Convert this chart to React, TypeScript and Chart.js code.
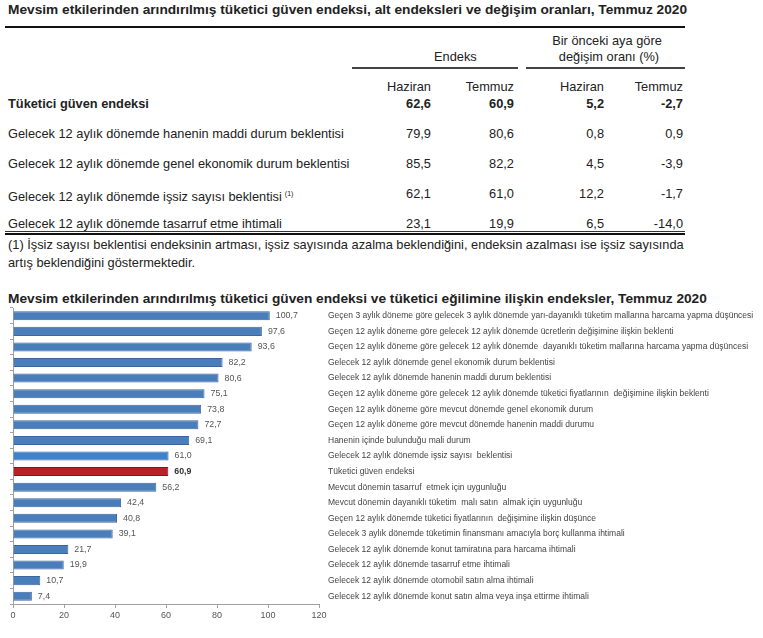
import React, { useEffect, useRef } from "react";
import { Chart, registerables } from "chart.js";

Chart.register(...registerables);

const tableTitle =
  "Mevsim etkilerinden arındırılmış tüketici güven endeksi, alt endeksleri ve değişim oranları, Temmuz 2020";
const chartTitle =
  "Mevsim etkilerinden arındırılmış tüketici güven endeksi ve tüketici eğilimine ilişkin endeksler, Temmuz 2020";

const groupHeaders = ["Endeks", "Bir önceki aya göre", "değişim oranı (%)"];
const monthHeaders = ["Haziran", "Temmuz", "Haziran", "Temmuz"];

const tableRowLabels = [
  "Tüketici güven endeksi",
  "Gelecek 12 aylık dönemde hanenin maddi durum beklentisi",
  "Gelecek 12 aylık dönemde genel ekonomik durum beklentisi",
  "Gelecek 12 aylık dönemde işsiz sayısı beklentisi",
  "Gelecek 12 aylık dönemde tasarruf etme ihtimali",
];
const endeksHaziran = [62.6, 79.9, 85.5, 62.1, 23.1];
const endeksTemmuz = [60.9, 80.6, 82.2, 61.0, 19.9];
const degisimHaziran = [5.2, 0.8, 4.5, 12.2, 6.5];
const degisimTemmuz = [-2.7, 0.9, -3.9, -1.7, -14.0];
const footnoteLines = [
  "(1) İşsiz sayısı beklentisi endeksinin artması, işsiz sayısında azalma beklendiğini, endeksin azalması ise işsiz sayısında",
  "artış beklendiğini göstermektedir.",
];

const categories = [
  "Geçen 3 aylık döneme göre gelecek 3 aylık dönemde yarı-dayanıklı tüketim mallarına harcama yapma düşüncesi",
  "Geçen 12 aylık döneme göre gelecek 12 aylık dönemde ücretlerin değişimine ilişkin beklenti",
  "Geçen 12 aylık döneme göre gelecek 12 aylık dönemde  dayanıklı tüketim mallarına harcama yapma düşüncesi",
  "Gelecek 12 aylık dönemde genel ekonomik durum beklentisi",
  "Gelecek 12 aylık dönemde hanenin maddi durum beklentisi",
  "Geçen 12 aylık döneme göre gelecek 12 aylık dönemde tüketici fiyatlarının  değişimine ilişkin beklenti",
  "Geçen 12 aylık döneme göre mevcut dönemde genel ekonomik durum",
  "Geçen 12 aylık döneme göre mevcut dönemde hanenin maddi durumu",
  "Hanenin içinde bulunduğu mali durum",
  "Gelecek 12 aylık dönemde işsiz sayısı  beklentisi",
  "Tüketici güven endeksi",
  "Mevcut dönemin tasarruf  etmek için uygunluğu",
  "Mevcut dönemin dayanıklı tüketim  malı satın  almak için uygunluğu",
  "Geçen 12 aylık dönemde tüketici fiyatlarının  değişimine ilişkin düşünce",
  "Gelecek 3 aylık dönemde tüketimin finansmanı amacıyla borç kullanma ihtimali",
  "Gelecek 12 aylık dönemde konut tamiratına para harcama ihtimali",
  "Gelecek 12 aylık dönemde tasarruf etme ihtimali",
  "Gelecek 12 aylık dönemde otomobil satın alma ihtimali",
  "Gelecek 12 aylık dönemde konut satın alma veya inşa ettirme ihtimali",
];
const values = [100.7, 97.6, 93.6, 82.2, 80.6, 75.1, 73.8, 72.7, 69.1, 61.0, 60.9, 56.2, 42.4, 40.8, 39.1, 21.7, 19.9, 10.7, 7.4];
const highlightCategory = "Tüketici güven endeksi";
const xTickMin = 0;
const xTickMax = 120;
const xTickStep = 20;

const fmt = (v: number) => v.toFixed(1).replace(".", ",");

const FONT = "'Liberation Sans', Arial, sans-serif";

type TProps = {
  x: number;
  y: number;
  children: React.ReactNode;
  align?: "left" | "right" | "center";
  bold?: boolean;
  size?: number;
  color?: string;
};

function T({ x, y, children, align = "left", bold = false, size = 12.8, color = "#222" }: TProps) {
  const w = 800;
  let left = x;
  if (align === "right") left = x - w;
  if (align === "center") left = x - w / 2;
  return (
    <div
      style={{
        position: "absolute",
        left,
        top: y - 8,
        width: w,
        height: 16,
        lineHeight: "16px",
        textAlign: align,
        fontFamily: FONT,
        fontSize: size,
        fontWeight: bold ? 700 : 400,
        color,
        whiteSpace: "pre",
      }}
    >
      {children}
    </div>
  );
}

function Line({ x1, x2, y, h, color = "#111" }: { x1: number; x2: number; y: number; h: number; color?: string }) {
  return <div style={{ position: "absolute", left: x1, top: y, width: x2 - x1, height: h, background: color }} />;
}

const colRight = [431, 514, 604, 683];
const rowY = [104, 134, 164, 194, 224];

function DataTable() {
  return (
    <>
      <T x={8} y={10} bold size={13.7}>
        {tableTitle}
      </T>
      <Line x1={5} x2={685} y={26} h={2} />
      <T x={434} y={57}>{groupHeaders[0]}</T>
      <T x={607} y={41} align="center">{groupHeaders[1]}</T>
      <T x={609} y={57} align="center">{groupHeaders[2]}</T>
      <Line x1={352} x2={518} y={67} h={1.5} color="#444" />
      <Line x1={526} x2={685} y={67} h={1.5} color="#444" />
      {monthHeaders.map((m, i) => (
        <T key={i} x={colRight[i]} y={87} align="right">
          {m}
        </T>
      ))}
      {tableRowLabels.map((label, r) => (
        <React.Fragment key={r}>
          <T x={8} y={rowY[r]} bold={r === 0}>
            {label}
            {r === 3 ? <sup style={{ fontSize: 7, marginLeft: 3 }}>(1)</sup> : null}
          </T>
          <T x={colRight[0]} y={rowY[r]} align="right" bold={r === 0}>{fmt(endeksHaziran[r])}</T>
          <T x={colRight[1]} y={rowY[r]} align="right" bold={r === 0}>{fmt(endeksTemmuz[r])}</T>
          <T x={colRight[2]} y={rowY[r]} align="right" bold={r === 0}>{fmt(degisimHaziran[r])}</T>
          <T x={colRight[3]} y={rowY[r]} align="right" bold={r === 0}>{fmt(degisimTemmuz[r])}</T>
        </React.Fragment>
      ))}
      <Line x1={5} x2={685} y={231} h={1} color="#333" />
      <Line x1={5} x2={685} y={233} h={2} />
      <T x={8} y={245}>{footnoteLines[0]}</T>
      <T x={8} y={263}>{footnoteLines[1]}</T>
    </>
  );
}

function BarChart() {
  const ref = useRef<HTMLCanvasElement | null>(null);
  useEffect(() => {
    if (!ref.current) return;
    const hi = categories.indexOf(highlightCategory);
    const valueLabels = {
      id: "valueLabels",
      afterDatasetsDraw(chart: any) {
        const ctx = chart.ctx;
        const meta = chart.getDatasetMeta(0);
        ctx.save();
        ctx.textBaseline = "middle";
        ctx.textAlign = "left";
        meta.data.forEach((bar: any, i: number) => {
          const isHi = i === hi;
          ctx.font = `${isHi ? "bold " : ""}8.8px ${FONT}`;
          ctx.fillStyle = isHi ? "#333" : "#555";
          ctx.fillText(fmt(values[i]), bar.x + 6, bar.y);
        });
        ctx.restore();
      },
    };
    const chart = new Chart(ref.current, {
      type: "bar",
      data: {
        labels: categories,
        datasets: [
          {
            data: values,
            backgroundColor: values.map((_, i) => (i === hi ? "#b8202a" : i === hi - 1 ? "#3f82c9" : "#4a7ebb")),
            borderColor: values.map((_, i) => (i === hi ? "#8a1419" : "#3b679e")),
            borderWidth: 1,
            barPercentage: 0.58,
            categoryPercentage: 1,
            xAxisID: "x",
            yAxisID: "y",
          },
        ],
      },
      options: {
        indexAxis: "y",
        animation: false,
        responsive: false,
        devicePixelRatio: 1,
        layout: { padding: { top: 8, left: 0, right: 0, bottom: 0 } },
        plugins: { legend: { display: false }, tooltip: { enabled: false }, title: { display: false } },
        scales: {
          x: {
            type: "linear",
            position: "bottom",
            min: xTickMin,
            max: xTickMax,
            ticks: { stepSize: xTickStep, color: "#555", font: { size: 9, family: FONT }, padding: 2 },
            grid: { display: true, drawOnChartArea: false, drawTicks: true, tickLength: 4, color: "#a0a0a0" },
            border: { display: true, color: "#a0a0a0" },
            afterFit: (s: any) => {
              s.height = 26;
            },
          },
          y: {
            type: "category",
            position: "right",
            offset: true,
            grid: { display: false },
            border: { display: false },
            ticks: { color: "#444", font: { size: 8.5, family: FONT }, padding: 1, autoSkip: false },
            afterFit: (s: any) => {
              s.width = 444;
            },
          },
          y2: {
            type: "category",
            position: "left",
            labels: categories,
            offset: true,
            grid: { display: true, offset: true, drawOnChartArea: false, tickLength: 3, color: "#a0a0a0" },
            border: { display: true, color: "#a0a0a0" },
            ticks: { display: false, autoSkip: false },
            afterFit: (s: any) => {
              s.width = 13;
            },
          },
        },
      } as any,
      plugins: [valueLabels],
    });
    return () => chart.destroy();
  }, []);
  return (
    <canvas
      ref={ref}
      width={763}
      height={330}
      style={{ position: "absolute", left: 0, top: 300, width: 763, height: 330 }}
    />
  );
}

export default function App() {
  return (
    <div style={{ position: "absolute", left: 0, top: 0, width: 763, height: 638, background: "#fff", overflow: "hidden" }}>
      <DataTable />
      <T x={8} y={299} bold size={13.7}>
        {chartTitle}
      </T>
      <BarChart />
    </div>
  );
}
